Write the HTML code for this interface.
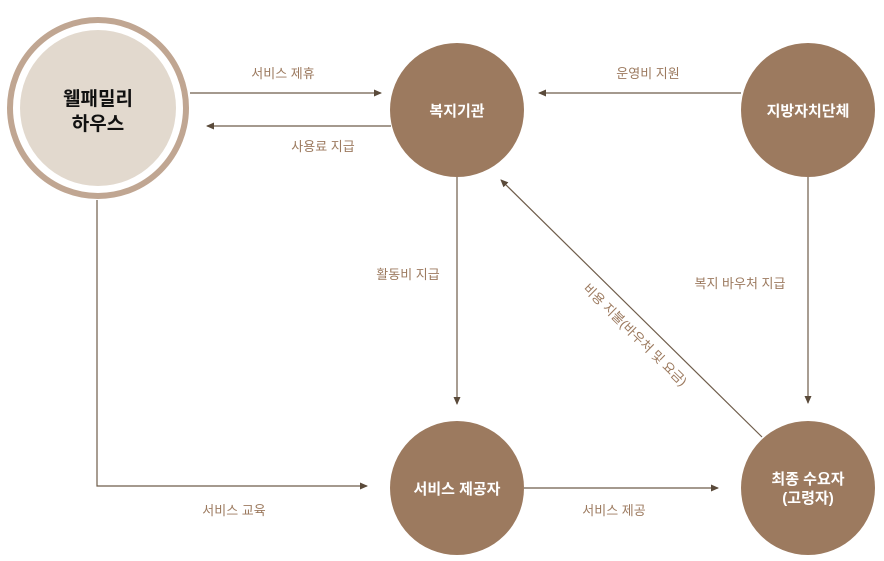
<!DOCTYPE html>
<html><head><meta charset="utf-8"><style>
html,body{margin:0;padding:0;background:#fff;width:884px;height:561px;overflow:hidden}
svg{display:block}
text{font-family:"Liberation Sans","Noto Sans CJK KR",sans-serif}
.l{font-size:13px;fill:#9c7a5f;text-anchor:middle}
.n{font-size:15px;fill:#fff;font-weight:bold;text-anchor:middle}
</style></head><body>
<svg width="884" height="561" viewBox="0 0 884 561">
<defs><marker id="a" markerWidth="8" markerHeight="8" refX="7" refY="4" orient="auto" markerUnits="userSpaceOnUse"><path d="M0,0.5 L8,4 L0,7.5 Z" fill="#5a4a3a"/></marker></defs>
<g stroke="#6e5c4a" stroke-width="1.2" fill="none">
<line x1="190" y1="93" x2="381" y2="93" marker-end="url(#a)"/>
<line x1="391" y1="126" x2="207" y2="126" marker-end="url(#a)"/>
<line x1="741" y1="93" x2="539" y2="93" marker-end="url(#a)"/>
<line x1="457" y1="177" x2="457" y2="404" marker-end="url(#a)"/>
<line x1="808" y1="177" x2="808" y2="403" marker-end="url(#a)"/>
<polyline points="97,200 97,486 367,486" marker-end="url(#a)"/>
<line x1="524" y1="488" x2="718" y2="488" marker-end="url(#a)"/>
<line x1="762" y1="437" x2="501" y2="180" marker-end="url(#a)"/>
</g>
<circle cx="98" cy="108" r="88" fill="#fff" stroke="#c0a692" stroke-width="6"/>
<circle cx="98" cy="108" r="78" fill="#e2d9ce"/>
<text x="98" y="105" text-anchor="middle" font-size="19" font-weight="bold" fill="#111">웰패밀리</text>
<text x="98" y="130" text-anchor="middle" font-size="19" font-weight="bold" fill="#111">하우스</text>
<g fill="#9c7a5f">
<circle cx="457" cy="110" r="67"/><circle cx="808" cy="110" r="67"/>
<circle cx="457" cy="488" r="67"/><circle cx="808" cy="488" r="67"/>
</g>
<text class="n" x="457" y="116">복지기관</text>
<text class="n" x="808" y="116">지방자치단체</text>
<text class="n" x="457" y="494">서비스 제공자</text>
<text class="n" x="808" y="484">최종 수요자</text>
<text class="n" x="808" y="503">(고령자)</text>
<text class="l" x="283" y="78">서비스 제휴</text>
<text class="l" x="323" y="151">사용료 지급</text>
<text class="l" x="648" y="78">운영비 지원</text>
<text class="l" x="408" y="279">활동비 지급</text>
<text class="l" x="740" y="288">복지 바우처 지급</text>
<text class="l" x="234" y="515">서비스 교육</text>
<text class="l" x="614" y="515">서비스 제공</text>
<text class="l" transform="translate(632,338) rotate(44.5)">비용 지불(바우처 및 요금)</text>
</svg>
</body></html>
